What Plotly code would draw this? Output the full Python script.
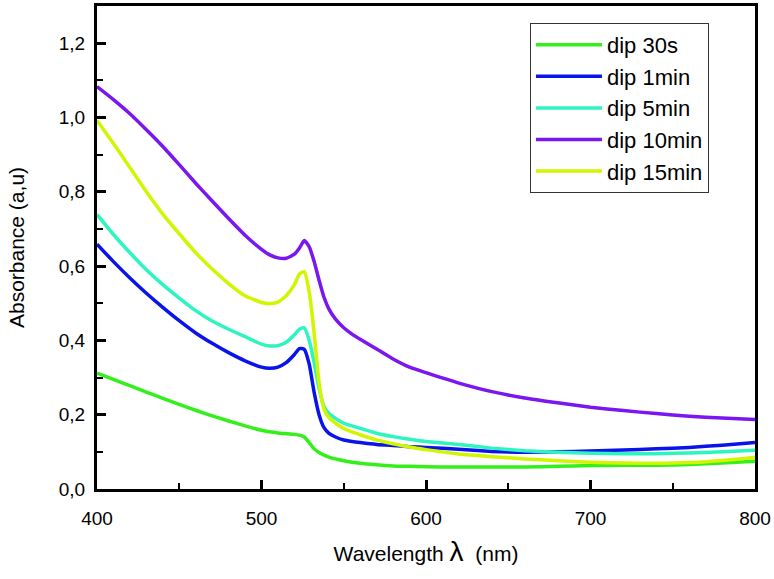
import plotly.graph_objects as go

wavelength = [400, 410, 420, 430, 440, 450, 460, 470, 480, 490, 500, 505, 510, 515, 520,
              523, 526, 529, 532, 535, 538, 541, 545, 550, 555, 560, 570, 580, 590, 600,
              620, 640, 660, 680, 700, 720, 740, 760, 780, 800]

dip_30s = [0.312, 0.295, 0.278, 0.261, 0.244, 0.228, 0.212, 0.197, 0.183, 0.170, 0.158, 0.154,
           0.151, 0.149, 0.147, 0.145, 0.140, 0.125, 0.108, 0.098, 0.091, 0.086, 0.081, 0.076,
           0.072, 0.069, 0.065, 0.062, 0.061, 0.060, 0.059, 0.059, 0.059, 0.061, 0.063, 0.064,
           0.064, 0.066, 0.070, 0.075]

dip_1min = [0.659, 0.612, 0.568, 0.527, 0.489, 0.453, 0.420, 0.392, 0.367, 0.345, 0.328, 0.325,
            0.328, 0.340, 0.362, 0.378, 0.376, 0.336, 0.260, 0.200, 0.165, 0.150, 0.140, 0.132,
            0.128, 0.125, 0.120, 0.117, 0.114, 0.112, 0.107, 0.101, 0.099, 0.100, 0.102, 0.105,
            0.108, 0.112, 0.118, 0.125]

dip_5min = [0.739, 0.685, 0.636, 0.590, 0.550, 0.514, 0.480, 0.452, 0.430, 0.410, 0.390, 0.385,
            0.386, 0.395, 0.415, 0.430, 0.434, 0.400, 0.340, 0.270, 0.222, 0.203, 0.190, 0.177,
            0.170, 0.163, 0.150, 0.141, 0.134, 0.128, 0.120, 0.110, 0.103, 0.099, 0.096, 0.095,
            0.095, 0.097, 0.100, 0.104]

dip_10min = [1.083, 1.048, 1.010, 0.967, 0.922, 0.873, 0.823, 0.775, 0.728, 0.683, 0.645, 0.630,
             0.622, 0.621, 0.632, 0.648, 0.669, 0.652, 0.612, 0.562, 0.516, 0.484, 0.457, 0.434,
             0.417, 0.403, 0.377, 0.350, 0.328, 0.313, 0.285, 0.262, 0.245, 0.232, 0.220, 0.211,
             0.203, 0.196, 0.191, 0.187]

dip_15min = [0.992, 0.930, 0.865, 0.800, 0.740, 0.687, 0.636, 0.592, 0.553, 0.520, 0.502, 0.499,
             0.503, 0.520, 0.550, 0.578, 0.585, 0.530, 0.420, 0.285, 0.215, 0.192, 0.177, 0.163,
             0.154, 0.146, 0.132, 0.122, 0.113, 0.106, 0.094, 0.087, 0.081, 0.076, 0.072, 0.070,
             0.069, 0.071, 0.077, 0.085]

series_names = ["dip 30s", "dip 1min", "dip 5min", "dip 10min", "dip 15min"]
series_values = [dip_30s, dip_1min, dip_5min, dip_10min, dip_15min]
colors = ["#33f01a", "#0a14e8", "#2ef5c0", "#7a16f0", "#d2f500"]

FONT = "Arial, Liberation Sans, sans-serif"

fig = go.Figure()
for name, vals, col in zip(series_names, series_values, colors):
    fig.add_trace(go.Scatter(x=wavelength, y=vals, mode="lines", name=name,
                             line=dict(color=col, width=3.5, shape="spline", smoothing=0.5)))

axis_common = dict(
    showline=True, linecolor="black", linewidth=3, mirror=True,
    ticks="inside", ticklen=9, tickwidth=3, tickcolor="black",
    showgrid=False, zeroline=False,
    tickfont=dict(family=FONT, size=19, color="black"),
)

fig.update_layout(
    width=774, height=579,
    margin=dict(l=97, r=16, t=3, b=90),
    paper_bgcolor="white", plot_bgcolor="white",
    separators=",.",
    font=dict(family=FONT, color="black"),
    xaxis=dict(range=[400, 800], dtick=100, tick0=400,
               minor=dict(dtick=50, ticks="inside", ticklen=6, tickwidth=2, tickcolor="black"),
               ticklabelstandoff=10,
               title=dict(text="Wavelength <span style='font-size:28px'>λ</span>  (nm)",
                          font=dict(family=FONT, size=21), standoff=19),
               **axis_common),
    yaxis=dict(range=[0, 1.3], dtick=0.2, tick0=0, tickformat=".1f",
               minor=dict(dtick=0.1, ticks="inside", ticklen=6, tickwidth=2, tickcolor="black"),
               ticklabelstandoff=5,
               title=dict(text="Absorbance (a,u)", font=dict(family=FONT, size=21), standoff=29),
               **axis_common),
    legend=dict(x=0.658, y=0.965, xanchor="left", yanchor="top",
                bgcolor="white", bordercolor="#333333", borderwidth=1,
                font=dict(family=FONT, size=22, color="black"),
                tracegroupgap=0, itemwidth=66),
    showlegend=True,
)

fig.write_html("out.html", config={"displayModeBar": False},
               post_script="document.body.style.margin='0';")
